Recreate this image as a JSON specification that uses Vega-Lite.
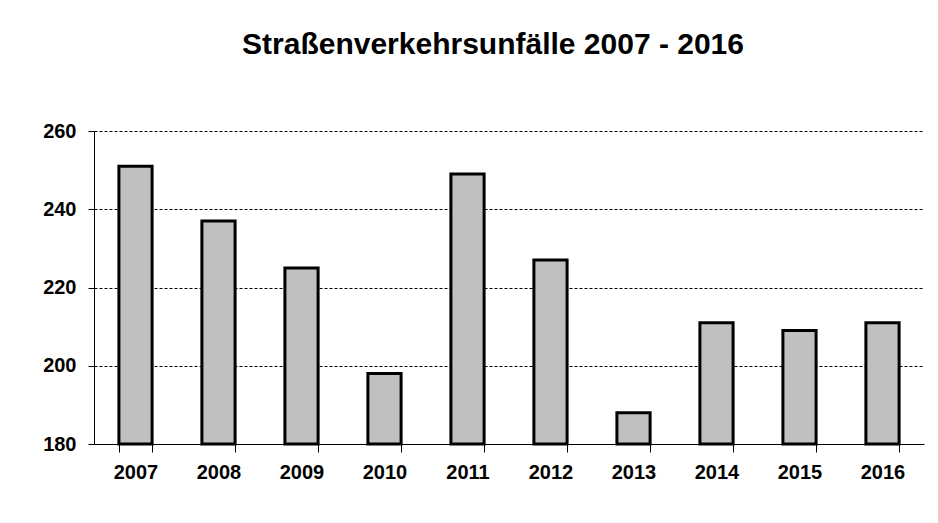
{
  "$schema": "https://vega.github.io/schema/vega-lite/v6.json",
  "width": 830,
  "height": 313,
  "autosize": {"type": "none"},
  "padding": {"left": 94, "top": 131, "right": 14, "bottom": 79},
  "background": "white",
  "title": {
    "text": "Straßenverkehrsunfälle 2007 - 2016",
    "font": "Liberation Sans",
    "fontSize": 30,
    "fontWeight": "bold",
    "color": "black",
    "anchor": "middle",
    "baseline": "alphabetic",
    "offset": 37,
    "dx": -16
  },
  "data": {
    "values": [
      {"Jahr": "2007", "Unfälle": 251},
      {"Jahr": "2008", "Unfälle": 237},
      {"Jahr": "2009", "Unfälle": 225},
      {"Jahr": "2010", "Unfälle": 198},
      {"Jahr": "2011", "Unfälle": 249},
      {"Jahr": "2012", "Unfälle": 227},
      {"Jahr": "2013", "Unfälle": 188},
      {"Jahr": "2014", "Unfälle": 211},
      {"Jahr": "2015", "Unfälle": 209},
      {"Jahr": "2016", "Unfälle": 211}
    ]
  },
  "mark": {"type": "bar", "fill": "#c0c0c0", "stroke": "black", "strokeWidth": 3},
  "encoding": {
    "x": {
      "field": "Jahr",
      "type": "nominal",
      "sort": null,
      "scale": {"paddingInner": 0.6, "paddingOuter": 0.3},
      "axis": {
        "title": null,
        "labelAngle": 0,
        "labelFont": "Liberation Sans",
        "labelFontSize": 20,
        "labelFontWeight": "bold",
        "labelColor": "black",
        "labelPadding": 10,
        "domainColor": "black",
        "domainWidth": 1,
        "tickColor": "black",
        "tickSize": 8,
        "tickBand": "extent",
        "grid": false
      }
    },
    "y": {
      "field": "Unfälle",
      "type": "quantitative",
      "scale": {"domain": [180, 260], "zero": false, "nice": false},
      "axis": {
        "title": null,
        "values": [180, 200, 220, 240, 260],
        "labelFont": "Liberation Sans",
        "labelFontSize": 20,
        "labelFontWeight": "bold",
        "labelColor": "black",
        "labelPadding": 12,
        "domainColor": "black",
        "tickColor": "black",
        "tickSize": 6,
        "grid": true,
        "gridColor": "black",
        "gridDash": [3, 2],
        "gridWidth": 1
      }
    },
    "y2": {"datum": 180}
  },
  "config": {"view": {"stroke": null}}
}
